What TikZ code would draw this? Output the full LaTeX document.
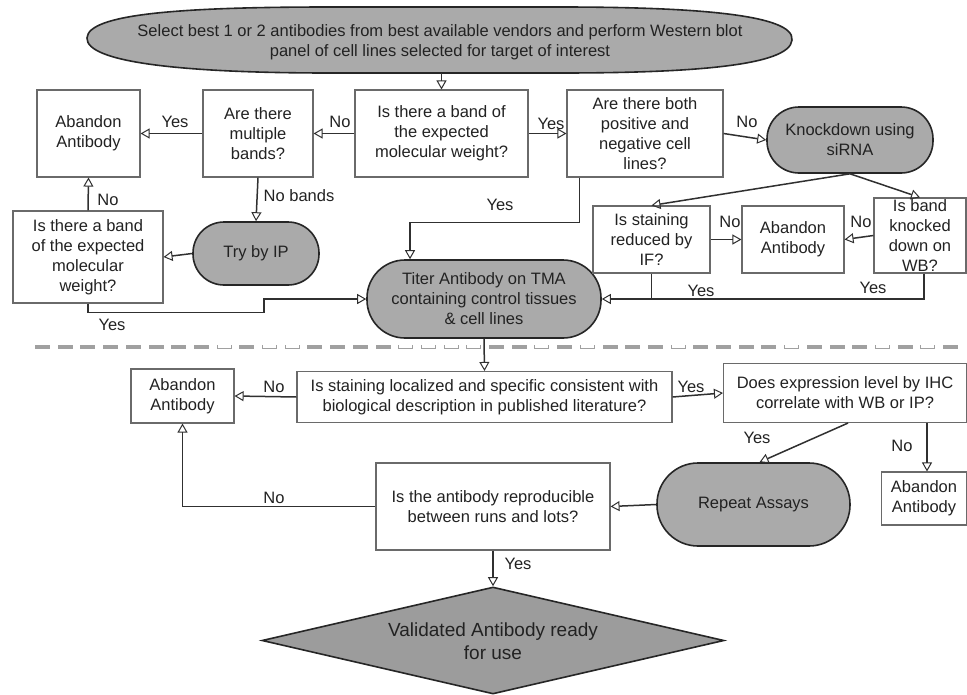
\documentclass[tikz,border=0pt]{standalone}
\usepackage{fontspec}
\setmainfont{Liberation Sans}
\usetikzlibrary{shapes.geometric,arrows.meta,calc}
\definecolor{txt}{HTML}{222222}
\definecolor{bord}{HTML}{6A6A6A}
\definecolor{fillg}{HTML}{AAAAAA}
\definecolor{filld}{HTML}{9C9C9C}
\definecolor{lnc}{HTML}{303030}
\definecolor{dashc}{HTML}{A0A0A0}
\begin{document}
\begin{tikzpicture}[x=1pt,y=-1pt,
  every node/.style={font=\fontsize{16.5pt}{20pt}\selectfont, text=txt},
  qbox/.style={draw=bord, line width=1.1pt, fill=white, align=center, inner sep=0pt},
  term/.style={rectangle, draw=black!85, line width=1.6pt, fill=fillg, align=center, inner sep=0pt},
  arr/.style={draw=lnc, line width=1.5pt, -{Triangle[open, length=9pt, width=10pt, line width=1pt]}},
  ln/.style={draw=lnc, line width=1.5pt},
  lab/.style={inner sep=0pt},
  soliddash/.style={fill=dashc},
  hollowdash/.style={draw=dashc, line width=1pt}]
\fill[white] (0,0) rectangle (967,694);
\useasboundingbox (0,0) rectangle (967,694);

% top lens-shaped terminal
\node[ellipse, draw=none, minimum width=704pt, minimum height=66pt, inner sep=0pt] (top) at (440,40) {};
\draw[draw=black!85, line width=1.6pt, fill=fillg] (87,38) .. controls (88,14) and (180,7) .. (330,7) -- (560,7) .. controls (690,7) and (795,14) .. (792,40) .. controls (790,66) and (690,73) .. (560,73) -- (330,73) .. controls (180,73) and (86,62) .. (87,38) -- cycle;
\node[align=center, inner sep=0pt] (toptxt) at (440,42) {Select best 1 or 2 antibodies from best available vendors and perform Western blot\\panel of cell lines selected for target of interest};

% row 1
\node[qbox, minimum width=103pt, minimum height=87pt] (ab1) at (88.5,133.5) {Abandon\\Antibody};
\node[qbox, minimum width=110pt, minimum height=87pt] (multi) at (258,133.5) {Are there\\multiple\\bands?};
\node[qbox, minimum width=173pt, minimum height=87pt] (band) at (441.5,133.5) {Is there a band of\\the expected\\molecular weight?};
\node[qbox, minimum width=156pt, minimum height=87pt] (both) at (645,133.5) {Are there both\\positive and\\negative cell\\lines?};
\node[term, rounded corners=32pt, minimum width=166pt, minimum height=66pt] (kd) at (850,140) {Knockdown using\\siRNA};

% row 2
\node[term, rounded corners=31pt, minimum width=126pt, minimum height=63pt] (ip) at (256,253.5) {Try by IP};
\node[qbox, minimum width=150pt, minimum height=92pt] (ipq) at (88,257) {Is there a band\\of the expected\\molecular\\weight?};
\node[term, rounded corners=38pt, minimum width=234pt, minimum height=78pt] (titer) at (484,299) {Titer Antibody on TMA\\containing control tissues\\\& cell lines};
\node[qbox, minimum width=117pt, minimum height=67pt] (iff) at (651.5,239.5) {Is staining\\reduced by\\IF?};
\node[qbox, minimum width=102pt, minimum height=67pt] (ab2) at (793,239.5) {Abandon\\Antibody};
\node[qbox, minimum width=92pt, minimum height=75pt, font=\fontsize{16.5pt}{20.3pt}\selectfont] (wb) at (920,235.5) {Is band\\knocked\\down on\\WB?};

% separator
\foreach \i in {0,...,7,9,12,13,14,15,20,21,23,25,26,27,29,30,31,32,34,35,36,38,40}
  \fill[soliddash] ({35+\i*22.7},345) rectangle ({50+\i*22.7},349);
\foreach \i in {8,10,11,16,17,18,19,22,24,28,33,37,39}
  \draw[hollowdash] ({35.5+\i*22.7},345.3) -- ({35.5+\i*22.7},348.5) -- ({49.5+\i*22.7},348.5) -- ({49.5+\i*22.7},345.3);

% lower part
\node[qbox, minimum width=375pt, minimum height=51pt] (loc) at (484.5,397) {Is staining localized and specific consistent with\\biological description in published literature?};
\node[qbox, minimum width=103pt, minimum height=54pt] (ab3) at (182.5,396) {Abandon\\Antibody};
\node[qbox, minimum width=243pt, minimum height=59pt] (ihc) at (845,393) {Does expression level by IHC\\correlate with WB or IP?};
\node[qbox, minimum width=85pt, minimum height=53pt] (ab4) at (924,498.5) {Abandon\\Antibody};
\node[term, rounded corners=41pt, minimum width=193pt, minimum height=83pt] (rep) at (753.5,504.5) {Repeat Assays};
\node[qbox, minimum width=234pt, minimum height=87pt] (repq) at (493,506.5) {Is the antibody reproducible\\between runs and lots?};
\node[diamond, draw=black!85, line width=1.6pt, fill=filld, minimum width=462pt, minimum height=107pt, inner sep=0pt] (val) at (493,640.5) {};
\node[align=center, inner sep=0pt, font=\fontsize{19pt}{23pt}\selectfont] (valtxt) at (493,641) {Validated Antibody ready\\for use};

% connectors
\draw[arr] (band.north |- top.south) -- (band.north);
\draw[arr] (band.west) -- (multi.east);
\draw[arr] (multi.west) -- (ab1.east);
\draw[arr] (band.east) -- (both.west);
\draw[arr] (both.east) -- (kd.west);
\draw[arr] (multi.south) -- (ip.north);
\draw[arr] (ip.west) -- (ipq.east);
\draw[arr] (ipq.north) -- (ab1.south);
\draw[arr] (ipq.south) -- ++(0,9) -| ($(titer.west)+(-102,0)$) -- (titer.west);
\draw[arr] ($(both.south west)+(13,0)$) -- ++(0,45) -| ($(titer.north)+(-74,0)$);
\draw[arr] (kd.south) -- (iff.north);
\draw[arr] (kd.south) -- (wb.north);
\draw[arr] (iff.east) -- (ab2.west);
\draw[arr] (wb.west) -- (ab2.east);
\draw[ln] (iff.south) -- (iff.south |- titer.east);
\draw[arr] ($(wb.south)+(4,0)$) |- (titer.east);
\draw[arr] (titer.south) -- (loc.north);
\draw[arr] (loc.west) -- (ab3.east);
\draw[arr] (loc.east) -- (ihc.west);
\draw[arr] ($(ihc.south)+(3,0)$) -- ($(rep.north)+(6,0)$);
\draw[arr] ($(ab4.north |- ihc.south)+(3,0)$) -- ($(ab4.north)+(3,0)$);
\draw[arr] (rep.west) -- (repq.east);
\draw[arr] (repq.west) -| (ab3.south);
\draw[arr] (repq.south) -- (val.north);

% labels
\node[lab] (l1) at (175,122) {Yes};
\node[lab] (l2) at (340,122) {No};
\node[lab] (l3) at (551,124) {Yes};
\node[lab] (l4) at (747,122) {No};
\node[lab] (l5) at (299,196) {No bands};
\node[lab] (l6) at (108,200) {No};
\node[lab] (l7) at (112,325) {Yes};
\node[lab] (l8) at (500,205) {Yes};
\node[lab] (l9) at (730,222) {No};
\node[lab] (l10) at (861,222) {No};
\node[lab] (l11) at (701,291) {Yes};
\node[lab] (l12) at (873,288) {Yes};
\node[lab] (l13) at (274,387) {No};
\node[lab] (l14) at (691,387) {Yes};
\node[lab] (l15) at (757,438) {Yes};
\node[lab] (l16) at (902,446) {No};
\node[lab] (l17) at (274,498) {No};
\node[lab] (l18) at (518,564) {Yes};
\end{tikzpicture}
\end{document}
